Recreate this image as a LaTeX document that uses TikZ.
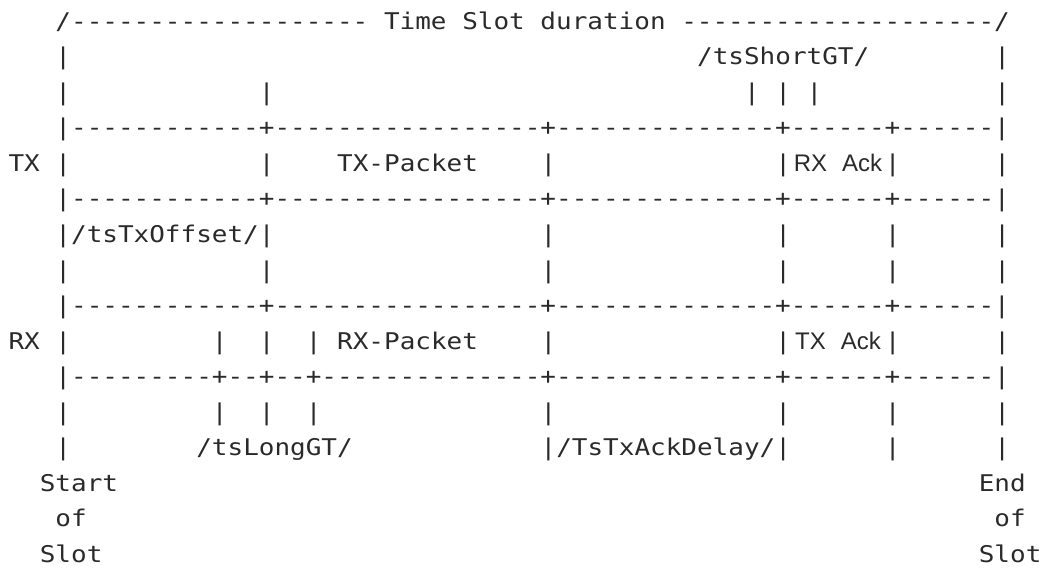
\documentclass[tikz,border=0pt]{standalone}
\usepackage{fontspec}
\newfontfamily\asciimono[Ligatures=TeXOff,FakeStretch=1.13]{DejaVu Sans Mono}
\newfontfamily\asciisans{Liberation Sans}
\definecolor{ink}{HTML}{2A2A2A}
\tikzset{
  mono/.style={anchor=base west,inner sep=0pt,outer sep=0pt,text=ink,
    font=\asciimono\fontsize{11.5pt}{11.5pt}\selectfont},
  acklbl/.style={anchor=base,inner sep=0pt,outer sep=0pt,text=ink,
    font=\asciisans\fontsize{12pt}{12pt}\selectfont}
}
% #1 column, #2 row, #3 text
\newcommand\gridtxt[3]{\node[mono] (t-#1-#2) at ({8.525+15.65*#1},{29.3+35.53*#2}) {#3};}
\newcommand\pipes[2]{\foreach \c in {#2}{\node[mono] (p-\c-#1) at ({8.525+15.65*\c},{29.3+35.53*#1}) {|};}}
\begin{document}
\begin{tikzpicture}[x=0.5pt,y=-0.5pt]
\useasboundingbox (0,0) rectangle (1040,569);
% row 0
\gridtxt{3}{0}{/------------------- Time Slot duration --------------------/}
% row 1
\pipes{1}{3,63}
\gridtxt{44}{1}{/tsShortGT/}
% row 2
\pipes{2}{3,16,47,49,51,63}
% row 3
\gridtxt{3}{3}{|------------+-----------------+--------------+------+------|}
% row 4 (TX)
\gridtxt{0}{4}{TX}
\pipes{4}{3,16,34,49,56,63}
\gridtxt{21}{4}{TX-Packet}
\node[acklbl] (rxack) at ({16.35+15.65*52.5},{29.3+35.53*4}) {RX\hspace{7.5pt}Ack};
% row 5
\gridtxt{3}{5}{|------------+-----------------+--------------+------+------|}
% row 6
\gridtxt{3}{6}{|/tsTxOffset/|}
\pipes{6}{34,49,56,63}
% row 7
\pipes{7}{3,16,34,49,56,63}
% row 8
\gridtxt{3}{8}{|------------+-----------------+--------------+------+------|}
% row 9 (RX)
\gridtxt{0}{9}{RX}
\pipes{9}{3,13,16,19,34,49,56,63}
\gridtxt{21}{9}{RX-Packet}
\node[acklbl] (txack) at ({16.35+15.65*52.5},{29.3+35.53*9}) {TX\hspace{7.5pt}Ack};
% row 10
\gridtxt{3}{10}{|---------+--+--+--------------+--------------+------+------|}
% row 11
\pipes{11}{3,13,16,19,34,49,56,63}
% row 12
\pipes{12}{3,56,63}
\gridtxt{12}{12}{/tsLongGT/}
\gridtxt{34}{12}{|/TsTxAckDelay/|}
% rows 13-15
\gridtxt{2}{13}{Start}
\gridtxt{62}{13}{End}
\gridtxt{3}{14}{of}
\gridtxt{63}{14}{of}
\gridtxt{2}{15}{Slot}
\gridtxt{62}{15}{Slot}
\end{tikzpicture}
\end{document}
